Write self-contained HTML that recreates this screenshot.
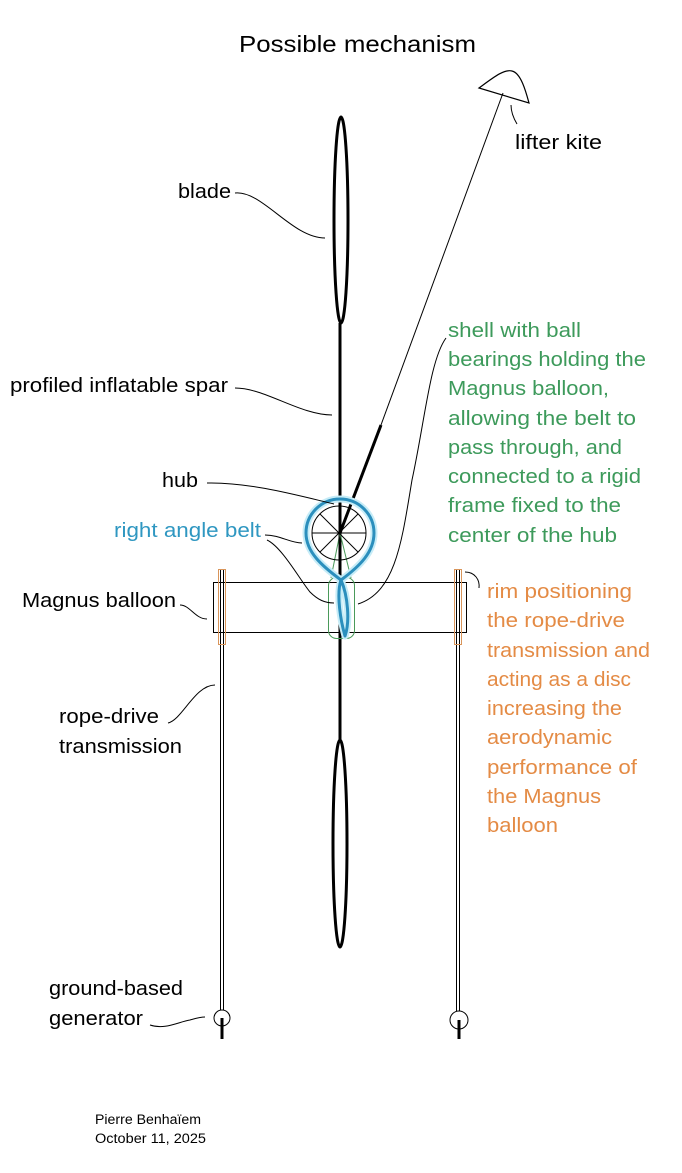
<!DOCTYPE html>
<html>
<head>
<meta charset="utf-8">
<style>
html,body{margin:0;padding:0;background:#fff;}
svg{display:block;}
text{font-family:"Liberation Sans","DejaVu Sans",sans-serif;}
</style>
</head>
<body>
<svg width="682" height="1173" viewBox="0 0 682 1173" xmlns="http://www.w3.org/2000/svg">
<rect width="682" height="1173" fill="#fff"/>

<!-- Title -->
<text x="239" y="52" font-size="23.5" fill="#000" textLength="237" lengthAdjust="spacingAndGlyphs">Possible mechanism</text>

<!-- Kite -->
<path d="M479 88 C494 77 504 69 512 71 C521 73 526 92 529 103 L479 88 Z" fill="none" stroke="#000" stroke-width="1.2"/>
<line x1="503" y1="93" x2="381" y2="425" stroke="#000" stroke-width="1"/>
<line x1="381" y1="425" x2="340" y2="533" stroke="#000" stroke-width="3"/>
<path d="M511 105 C511 113 514 119 517 124" fill="none" stroke="#000" stroke-width="1"/>
<text x="515" y="149" font-size="20" fill="#000" textLength="87" lengthAdjust="spacingAndGlyphs">lifter kite</text>

<!-- Blades and spar -->
<ellipse cx="341" cy="220" rx="7" ry="103" fill="none" stroke="#000" stroke-width="3"/>
<line x1="340" y1="323" x2="340" y2="740" stroke="#000" stroke-width="3"/>
<ellipse cx="340" cy="843.5" rx="7" ry="103.5" fill="none" stroke="#000" stroke-width="3"/>

<!-- Magnus balloon rect -->
<rect x="213.5" y="582.5" width="253" height="50" fill="none" stroke="#000" stroke-width="1"/>

<!-- Rope drive -->
<line x1="220.5" y1="569" x2="220.5" y2="1010" stroke="#000" stroke-width="1"/>
<line x1="223.5" y1="569" x2="223.5" y2="1010" stroke="#000" stroke-width="1"/>
<line x1="456.5" y1="569" x2="456.5" y2="1011" stroke="#000" stroke-width="1"/>
<line x1="459.5" y1="569" x2="459.5" y2="1011" stroke="#000" stroke-width="1"/>
<rect x="218.5" y="569.5" width="7" height="75" fill="none" stroke="#d9955a" stroke-width="1"/>
<rect x="454.5" y="569.5" width="7" height="75" fill="none" stroke="#d9955a" stroke-width="1"/>

<!-- Generators -->
<circle cx="222" cy="1018" r="8" fill="#fff" stroke="#000" stroke-width="1"/>
<circle cx="459" cy="1020" r="9" fill="#fff" stroke="#000" stroke-width="1"/>
<line x1="222" y1="1018" x2="222" y2="1039" stroke="#000" stroke-width="3"/>
<line x1="459" y1="1020" x2="459" y2="1039" stroke="#000" stroke-width="3"/>

<!-- Green shell -->
<line x1="340" y1="533" x2="331" y2="578" stroke="#4a9a5a" stroke-width="1"/>
<line x1="340" y1="533" x2="351" y2="578" stroke="#4a9a5a" stroke-width="1"/>
<rect x="328.5" y="577.5" width="26" height="61" rx="8" fill="none" stroke="#4a9a5a" stroke-width="1"/>

<!-- Hub -->
<circle cx="339" cy="533" r="27" fill="none" stroke="#000" stroke-width="1"/>
<line x1="312" y1="533" x2="366" y2="533" stroke="#000" stroke-width="1"/>
<line x1="339" y1="506" x2="339" y2="560" stroke="#000" stroke-width="1"/>
<line x1="320" y1="514" x2="358" y2="552" stroke="#000" stroke-width="1"/>
<line x1="358" y1="514" x2="320" y2="552" stroke="#000" stroke-width="1"/>

<!-- Blue belt -->
<g fill="none" stroke-linecap="round" stroke-linejoin="round">
<path d="M341 580 C322 566 306 552 306 533 A34 34 0 1 1 374 533 C374 552 360 566 341 580 C336 595 341 622 345 636 C350 622 348 596 341 580" stroke="#c6ecf7" stroke-width="7"/>
<path d="M341 580 C322 566 306 552 306 533 A34 34 0 1 1 374 533 C374 552 360 566 341 580 C336 595 341 622 345 636 C350 622 348 596 341 580" stroke="#2b8fbd" stroke-width="3"/>
</g>

<!-- Leaders -->
<g fill="none" stroke="#000" stroke-width="1">
<path d="M235 193 C262 190 292 238 325 238"/>
<path d="M235 388 C265 388 300 415 332 415"/>
<path d="M207 483 C250 482 300 496 334 504"/>
<path d="M265 535 C280 535 290 543 302 543"/>
<path d="M267 540 C282 547 300 580 310 592 C318 600 325 603 334 603"/>
<path d="M446 338 C430 360 425 420 412 480 C402 540 396 592 358 604"/>
<path d="M465 572 C475 572 480 580 479 588"/>
<path d="M180 605 C190 605 195 619 207 619"/>
<path d="M168 723 C182 720 195 685 215 685"/>
<path d="M150 1025 C165 1030 178 1022 190 1020 C197 1018 200 1017 205 1017"/>
</g>

<!-- Black labels -->
<g font-size="20" fill="#000">
<text x="178" y="198" textLength="53" lengthAdjust="spacingAndGlyphs">blade</text>
<text x="10" y="392" textLength="218" lengthAdjust="spacingAndGlyphs">profiled inflatable spar</text>
<text x="162" y="487" textLength="36" lengthAdjust="spacingAndGlyphs">hub</text>
<text x="22" y="607" textLength="154" lengthAdjust="spacingAndGlyphs">Magnus balloon</text>
<text x="59" y="723" textLength="100" lengthAdjust="spacingAndGlyphs">rope-drive</text>
<text x="59" y="753" textLength="123" lengthAdjust="spacingAndGlyphs">transmission</text>
<text x="49" y="995" textLength="134" lengthAdjust="spacingAndGlyphs">ground-based</text>
<text x="49" y="1025" textLength="94" lengthAdjust="spacingAndGlyphs">generator</text>
</g>
<text x="114" y="537" font-size="20" fill="#2f97c1" textLength="147" lengthAdjust="spacingAndGlyphs">right angle belt</text>

<!-- Green text -->
<g font-size="20" fill="#3d9a5b">
<text x="448" y="337" textLength="133" lengthAdjust="spacingAndGlyphs">shell with ball</text>
<text x="448" y="366" textLength="198" lengthAdjust="spacingAndGlyphs">bearings holding the</text>
<text x="448" y="395" textLength="161" lengthAdjust="spacingAndGlyphs">Magnus balloon,</text>
<text x="448" y="425" textLength="188" lengthAdjust="spacingAndGlyphs">allowing the belt to</text>
<text x="448" y="454" textLength="174" lengthAdjust="spacingAndGlyphs">pass through, and</text>
<text x="448" y="483" textLength="193" lengthAdjust="spacingAndGlyphs">connected to a rigid</text>
<text x="448" y="512" textLength="173" lengthAdjust="spacingAndGlyphs">frame fixed to the</text>
<text x="448" y="542" textLength="169" lengthAdjust="spacingAndGlyphs">center of the hub</text>
</g>

<!-- Orange text -->
<g font-size="20" fill="#e48b45">
<text x="487" y="598" textLength="145" lengthAdjust="spacingAndGlyphs">rim positioning</text>
<text x="487" y="627" textLength="138" lengthAdjust="spacingAndGlyphs">the rope-drive</text>
<text x="487" y="657" textLength="163" lengthAdjust="spacingAndGlyphs">transmission and</text>
<text x="487" y="686" textLength="144" lengthAdjust="spacingAndGlyphs">acting as a disc</text>
<text x="487" y="715" textLength="135" lengthAdjust="spacingAndGlyphs">increasing the</text>
<text x="487" y="744" textLength="125" lengthAdjust="spacingAndGlyphs">aerodynamic</text>
<text x="487" y="774" textLength="150" lengthAdjust="spacingAndGlyphs">performance of</text>
<text x="487" y="803" textLength="114" lengthAdjust="spacingAndGlyphs">the Magnus</text>
<text x="487" y="832" textLength="71" lengthAdjust="spacingAndGlyphs">balloon</text>
</g>

<!-- Footer -->
<g font-size="13.5" fill="#000">
<text x="95" y="1124" textLength="106" lengthAdjust="spacingAndGlyphs">Pierre Benhaïem</text>
<text x="95" y="1143" textLength="111" lengthAdjust="spacingAndGlyphs">October 11, 2025</text>
</g>
</svg>
</body>
</html>
